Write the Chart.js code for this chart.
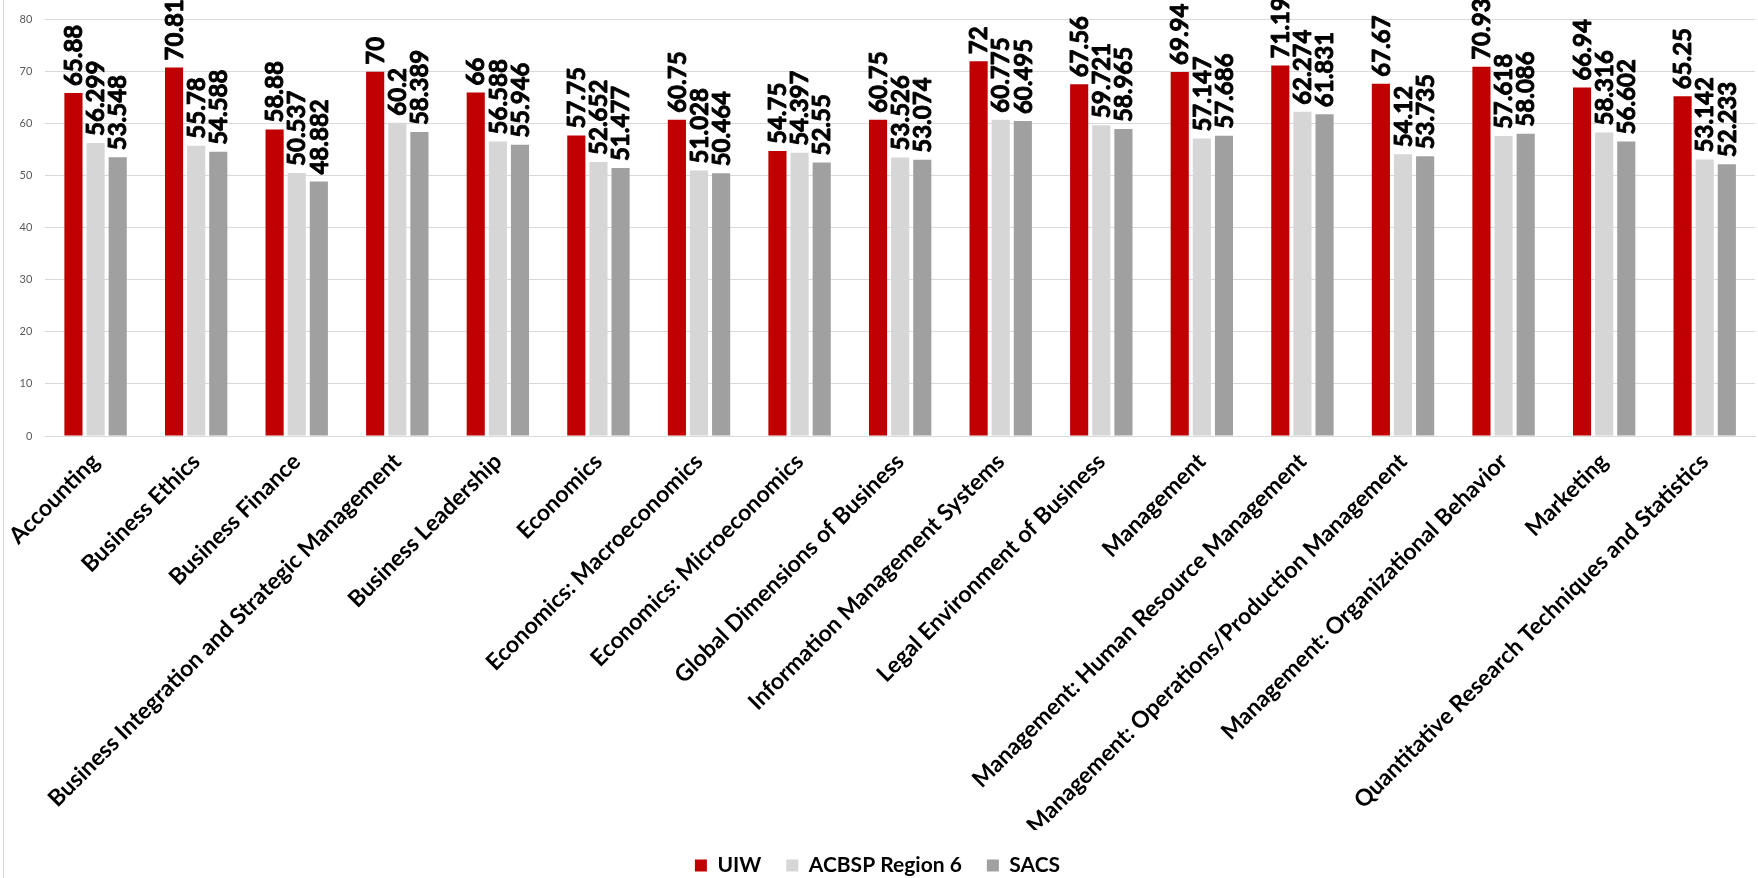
<!DOCTYPE html>
<html>
<head>
<meta charset="utf-8">
<script src="https://cdn.jsdelivr.net/npm/chart.js@4/dist/chart.umd.min.js"></script>
<style>
  html, body { margin: 0; padding: 0; background: #fff; }
  #wrap { position: relative; width: 1758px; height: 878px; }
  #frame { position: absolute; left: 3px; top: 0; width: 1px; height: 878px; background: #d9d9d9; }
  canvas { display: block; }
</style>
</head>
<body>
<div id="wrap">
  <canvas id="c" width="1758" height="878"></canvas>
  <div id="frame"></div>
</div>
<script>
const categories = [
  "Accounting", "Business Ethics", "Business Finance",
  "Business Integration and Strategic Management", "Business Leadership",
  "Economics", "Economics: Macroeconomics", "Economics: Microeconomics",
  "Global Dimensions of Business", "Information Management Systems",
  "Legal Environment of Business", "Management",
  "Management: Human Resource Management",
  "Management: Operations/Production Management",
  "Management: Organizational Behavior", "Marketing",
  "Quantitative Research Techniques and Statistics"
];
const uiw   = [65.88, 70.81, 58.88, 70, 66, 57.75, 60.75, 54.75, 60.75, 72, 67.56, 69.94, 71.19, 67.67, 70.93, 66.94, 65.25];
const acbsp = [56.299, 55.78, 50.537, 60.2, 56.588, 52.652, 51.028, 54.397, 53.526, 60.775, 59.721, 57.147, 62.274, 54.12, 57.618, 58.316, 53.142];
const sacs  = [53.548, 54.588, 48.882, 58.389, 55.946, 51.477, 50.464, 52.55, 53.074, 60.495, 58.965, 57.686, 61.831, 53.735, 58.086, 56.602, 52.233];
const seriesNames = ["UIW", "ACBSP Region 6", "SACS"];
const yTicks = [0, 10, 20, 30, 40, 50, 60, 70, 80];

const FONT = "Lato";

const valueLabels = {
  id: "valueLabels",
  afterDatasetsDraw(chart) {
    const ctx = chart.ctx;
    ctx.save();
    ctx.font = "bold 24px " + FONT;
    ctx.fillStyle = "#000";
    ctx.strokeStyle = "#000";
    ctx.lineWidth = 0.9;
    ctx.lineJoin = "round";
    ctx.textAlign = "left";
    ctx.textBaseline = "middle";
    chart.data.datasets.forEach((ds, di) => {
      const meta = chart.getDatasetMeta(di);
      meta.data.forEach((bar, i) => {
        ctx.save();
        ctx.translate(bar.x, bar.y - 7);
        ctx.rotate(-Math.PI / 2);
        const t = String(ds.data[i]);
        ctx.fillText(t, 0, 1);
        ctx.strokeText(t, 0, 1);
        ctx.restore();
      });
    });
    ctx.restore();
  }
};

new Chart(document.getElementById("c"), {
  type: "bar",
  data: {
    labels: categories,
    datasets: [
      { label: seriesNames[0], data: uiw,   backgroundColor: "#C00000" },
      { label: seriesNames[1], data: acbsp, backgroundColor: "#D6D6D6" },
      { label: seriesNames[2], data: sacs,  backgroundColor: "#A0A0A0" }
    ]
  },
  options: {
    responsive: false,
    animation: false,
    devicePixelRatio: 1,
    layout: { padding: { top: 15, right: 3, left: 0, bottom: -8 } },
    datasets: { bar: { categoryPercentage: 0.66, barPercentage: 0.82 } },
    plugins: {
      legend: {
        position: "bottom",
        labels: {
          font: { family: FONT, size: 21, weight: "bold" },
          color: "#000",
          boxWidth: 12,
          boxHeight: 12,
          padding: 25
        }
      },
      tooltip: { enabled: false }
    },
    scales: {
      x: {
        afterFit(s) { s.height = 394; },
        grid: { display: false, drawTicks: false },
        border: { display: true, color: "#d9d9d9", width: 1 },
        ticks: {
          autoSkip: false,
          minRotation: 45,
          maxRotation: 45,
          padding: 12,
          color: "#000",
          font: { family: FONT, size: 23, weight: "bold" }
        }
      },
      y: {
        min: 0,
        max: 80,
        afterFit(s) { s.width = 45; },
        afterBuildTicks(s) { s.ticks = yTicks.map(v => ({ value: v })); },
        grid: { color: "#d9d9d9", drawTicks: false, lineWidth: 1 },
        border: { display: false },
        ticks: {
          padding: 13,
          color: "#595959",
          font: { family: FONT, size: 11 }
        }
      }
    }
  },
  plugins: [valueLabels]
});
</script>
</body>
</html>
